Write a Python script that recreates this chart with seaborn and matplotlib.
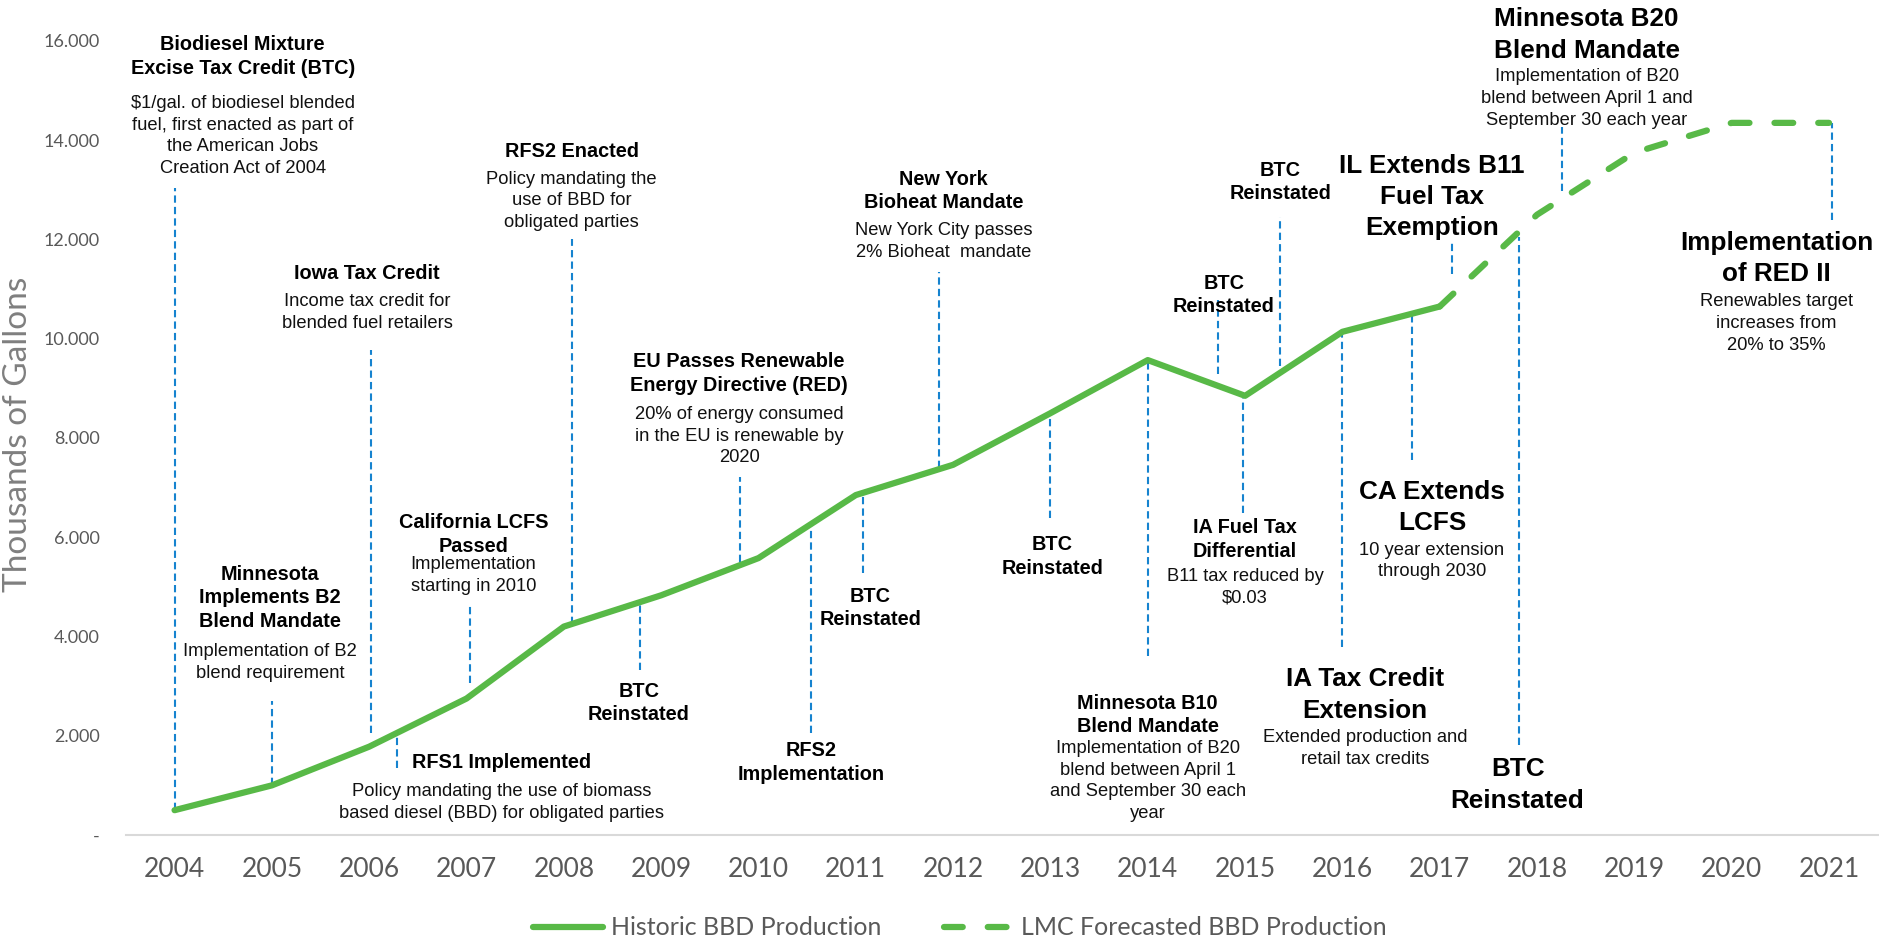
import numpy as np
import pandas as pd
import matplotlib
matplotlib.use('Agg')
import matplotlib.pyplot as plt
import seaborn as sns

# Production, thousands of gallons
hist_years = [2004, 2005, 2006, 2007, 2008, 2009, 2010, 2011, 2012, 2013, 2014, 2015, 2016, 2017]
hist_values = [500, 1000, 1780, 2750, 4200, 4830, 5580, 6850, 7460, 8500, 9570, 8850, 10140, 10650]
fcst_years = [2017, 2018, 2019, 2020, 2021]
fcst_values = [10650, 12500, 13750, 14350, 14350]

year_ticks = list(range(2004, 2022))
y_ticks = [0, 2000, 4000, 6000, 8000, 10000, 12000, 14000, 16000]
y_tick_labels = ['-', '2.000', '4.000', '6.000', '8.000', '10.000', '12.000', '14.000', '16.000']

# Leader lines for the policy events (x, lower end, upper end)
event_x = [2004.0, 2005.0, 2006.02, 2006.29, 2007.04, 2008.08, 2008.78, 2009.81, 2010.54, 2011.07, 2011.85,
           2013.0, 2014.0, 2014.72, 2014.98, 2015.36, 2016.0, 2016.71, 2017.13, 2017.81, 2018.26, 2021.03]
event_low = [500, 1000, 2050, 1350, 3070, 4250, 3320, 5500, 2050, 5280, 7400,
             6390, 3600, 9290, 6490, 9460, 3790, 7550, 11300, 1810, 12980, 12400]
event_high = [13040, 2710, 9770, 2060, 4630, 12000, 4690, 7210, 6300, 6900, 11340,
              8500, 9570, 10790, 8860, 12450, 10140, 10480, 11940, 12050, 14270, 14350]

# Event labels
event_titles = [
    'Biodiesel Mixture\nExcise Tax Credit (BTC)',
    'Minnesota\nImplements B2\nBlend Mandate',
    'Iowa Tax Credit',
    'RFS1 Implemented',
    'California LCFS\nPassed',
    'RFS2 Enacted',
    'BTC\nReinstated',
    'EU Passes Renewable\nEnergy Directive (RED)',
    'RFS2\nImplementation',
    'BTC\nReinstated',
    'New York\nBioheat Mandate',
    'BTC\nReinstated',
    'Minnesota B10\nBlend Mandate',
    'BTC\nReinstated',
    'IA Fuel Tax\nDifferential',
    'BTC\nReinstated',
    'IL Extends B11\nFuel Tax\nExemption',
    'Minnesota B20\nBlend Mandate',
    'Implementation\nof RED II',
    'CA Extends\nLCFS',
    'IA Tax Credit\nExtension',
    'BTC\nReinstated',
]
event_notes = [
    '$1/gal. of biodiesel blended\nfuel, first enacted as part of\nthe American Jobs\nCreation Act of 2004',
    'Implementation of B2\nblend requirement',
    'Income tax credit for\nblended fuel retailers',
    'Policy mandating the use of biomass\nbased diesel (BBD) for obligated parties',
    'Implementation\nstarting in 2010',
    'Policy mandating the\nuse of BBD for\nobligated parties',
    '',
    '20% of energy consumed\nin the EU is renewable by\n2020',
    '',
    '',
    'New York City passes\n2% Bioheat  mandate',
    '',
    'Implementation of B20\nblend between April 1\nand September 30 each\nyear',
    '',
    'B11 tax reduced by\n$0.03',
    '',
    '',
    'Implementation of B20\nblend between April 1 and\nSeptember 30 each year',
    'Renewables target\nincreases from\n20% to 35%',
    '10 year extension\nthrough 2030',
    'Extended production and\nretail tax credits',
    '',
]
label_x = [2004.70, 2004.98, 2005.98, 2007.36, 2007.07, 2008.08, 2008.77, 2009.80, 2010.54, 2011.15, 2011.90,
           2013.02, 2014.00, 2014.78, 2015.00, 2015.36, 2016.92, 2018.51, 2020.46, 2016.92, 2016.23, 2017.80]
title_y = [15687, 4776, 11305, 1451, 6055, 13783, 2660, 9300, 1457, 4570, 12977,
           5612, 2418, 10882, 5955, 13159, 12856, 16121, 11617, 6600, 2821, 1008]
note_y = [14087, 3476, 10529, 655, 5229, 12776, None, 8040, None, None, 11960,
          None, 1088, None, 4998, None, None, 14841, 10307, 5521, 1743, None]
big_title = [False] * 16 + [True] * 6

green = '#58B947'
blue = '#1683CF'
gray = '#595959'

hist_df = pd.DataFrame({'Year': hist_years, 'Production': hist_values})
fcst_df = pd.DataFrame({'Year': fcst_years, 'Production': fcst_values})

sns.set_style('white')
plt.rcParams['font.family'] = ['Liberation Sans', 'DejaVu Sans']

fig = plt.figure(figsize=(18.79, 9.40), dpi=100)
ax = fig.add_axes([0.067, 0.1117, 0.9323, 0.8447])

ax.vlines(event_x, event_low, event_high, colors=blue, linewidth=1.5,
          linestyles=[(0, (3.5, 2))], zorder=1)

sns.lineplot(data=hist_df, x='Year', y='Production', color=green, linewidth=4.5,
             label='Historic BBD Production', ax=ax, zorder=3)
sns.lineplot(data=fcst_df, x='Year', y='Production', color=green, linewidth=4.5,
             linestyle=(0, (3, 4)), dash_capstyle='round',
             label='LMC Forecasted BBD Production', ax=ax, zorder=3)

for i in range(len(event_titles)):
    if big_title[i]:
        size, spacing = 18.8, 1.38
    else:
        size, spacing = 14.3, 1.3
    ax.text(label_x[i], title_y[i], event_titles[i], ha='center', va='center',
            fontsize=size, fontweight='bold', color='black', linespacing=spacing)
    if note_y[i] is not None:
        ax.text(label_x[i], note_y[i], event_notes[i], ha='center', va='center',
                fontsize=13.2, color='#111111', linespacing=1.37)

ax.set_xlim(2003.5, 2021.5)
ax.set_ylim(0, 16000)
ax.set_xticks(year_ticks)
ax.set_xticklabels([str(y) for y in year_ticks], fontsize=19, color=gray, family='Lato')
ax.set_yticks(y_ticks)
ax.set_yticklabels(y_tick_labels, fontsize=13, color=gray, family='Lato')
ax.tick_params(axis='x', length=0, pad=16)
ax.tick_params(axis='y', length=0, pad=19)
ax.set_xlabel('')
ax.set_ylabel('')
fig.text(18 / 1879, 1 - 434 / 940, 'Thousands of Gallons', rotation=90, ha='center', va='center',
         fontsize=24, color='#7F7F7F', family='Lato')

for side in ['left', 'right', 'top']:
    ax.spines[side].set_visible(False)
ax.spines['bottom'].set_color('#D9D9D9')
ax.spines['bottom'].set_linewidth(1.5)

handles, labels = ax.get_legend_handles_labels()
ax.get_legend().remove()
fig.legend(handles, labels, loc='center', bbox_to_anchor=(960 / 1879, 0.013), ncol=2, frameon=False,
           prop={'family': 'Lato', 'size': 18}, labelcolor=gray, handlelength=2.8,
           handletextpad=0.3, columnspacing=2.5, borderpad=0)

fig.savefig('out.png', dpi=100)
